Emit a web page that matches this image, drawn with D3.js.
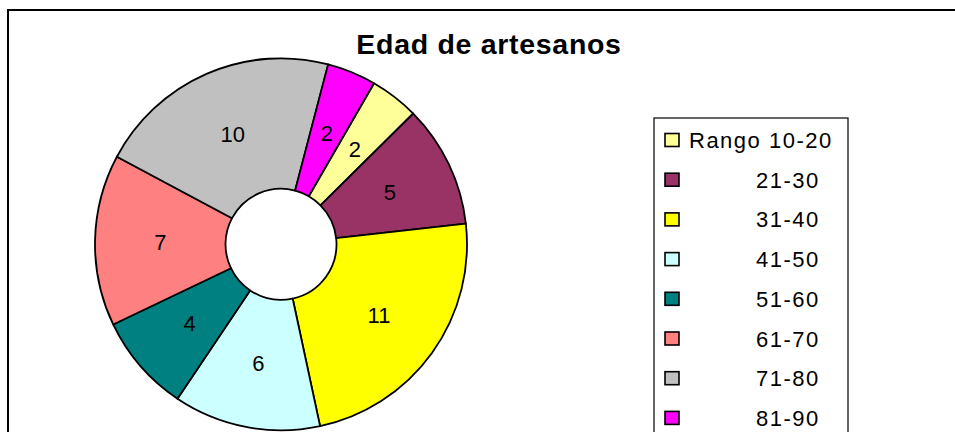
<!DOCTYPE html>
<html>
<head>
<meta charset="utf-8">
<script src="https://cdn.jsdelivr.net/npm/d3@7"></script>
<style>
  html, body { margin: 0; padding: 0; background: #fff; }
  svg { display: block; font-family: "Liberation Sans", Arial, sans-serif; }
</style>
</head>
<body>
<svg id="chart" width="955" height="432"></svg>
<script>
// Age groups of artisans and their counts
const categories = ["Rango 10-20", "21-30", "31-40", "41-50", "51-60", "61-70", "71-80", "81-90"];
const counts = [2, 5, 11, 6, 4, 7, 10, 2];
const colors = ["#FFFF99", "#993366", "#FFFF00", "#CCFFFF", "#008080", "#FF8080", "#C0C0C0", "#FF00FF"];
const title = "Edad de artesanos";

const svg = d3.select("#chart");
svg.append("rect").attr("width", 955).attr("height", 432).attr("fill", "#fff");

// Outer chart frame (runs past the right and bottom edges)
svg.append("rect")
  .attr("x", 8).attr("y", 10)
  .attr("width", 1000).attr("height", 500)
  .attr("fill", "none").attr("stroke", "#000").attr("stroke-width", 2);

svg.append("text")
  .attr("x", 489).attr("y", 53.5)
  .attr("text-anchor", "middle")
  .attr("font-size", 28.5).attr("font-weight", "bold")
  .attr("letter-spacing", 0.7)
  .text(title);

// Doughnut
const cx = 281, cy = 244.3;
const rOuter = 186, rInner = 55.5;
const startAngle = 30 * Math.PI / 180;

const pie = d3.pie().sort(null).value(d => d)
  .startAngle(startAngle).endAngle(startAngle + 2 * Math.PI);
const arc = d3.arc().innerRadius(rInner).outerRadius(rOuter);

const g = svg.append("g").attr("transform", `translate(${cx},${cy})`);
const arcs = pie(counts);

g.selectAll("path.slice").data(arcs).join("path")
  .attr("class", "slice")
  .attr("d", arc)
  .attr("fill", (d, i) => colors[i])
  .attr("stroke", "#000").attr("stroke-width", 1.8)
  .attr("stroke-linejoin", "round");

g.selectAll("text.val").data(arcs).join("text")
  .attr("class", "val")
  .attr("transform", d => `translate(${arc.centroid(d)})`)
  .attr("text-anchor", "middle")
  .attr("dy", "0.36em")
  .attr("font-size", 22)
  .attr("fill", "#000")
  .text(d => d.data);

// Legend
const legend = svg.append("g");
legend.append("rect")
  .attr("x", 654).attr("y", 118)
  .attr("width", 194).attr("height", 400)
  .attr("fill", "#fff").attr("stroke", "#000").attr("stroke-width", 1.2);

const rowY = d3.scaleLinear().domain([0, 1]).range([140, 179.7]);

const rows = legend.selectAll("g.row").data(categories).join("g")
  .attr("class", "row")
  .attr("transform", (d, i) => `translate(0,${rowY(i)})`);

rows.append("rect")
  .attr("x", 665).attr("y", -6.5)
  .attr("width", 14).attr("height", 13)
  .attr("fill", (d, i) => colors[i])
  .attr("stroke", "#000").attr("stroke-width", 1.6);

rows.append("text")
  .attr("x", (d, i) => i === 0 ? 689 : 756)
  .attr("y", 8)
  .attr("font-size", 22)
  .attr("letter-spacing", 1.5)
  .attr("fill", "#000")
  .text(d => d);
</script>
</body>
</html>
